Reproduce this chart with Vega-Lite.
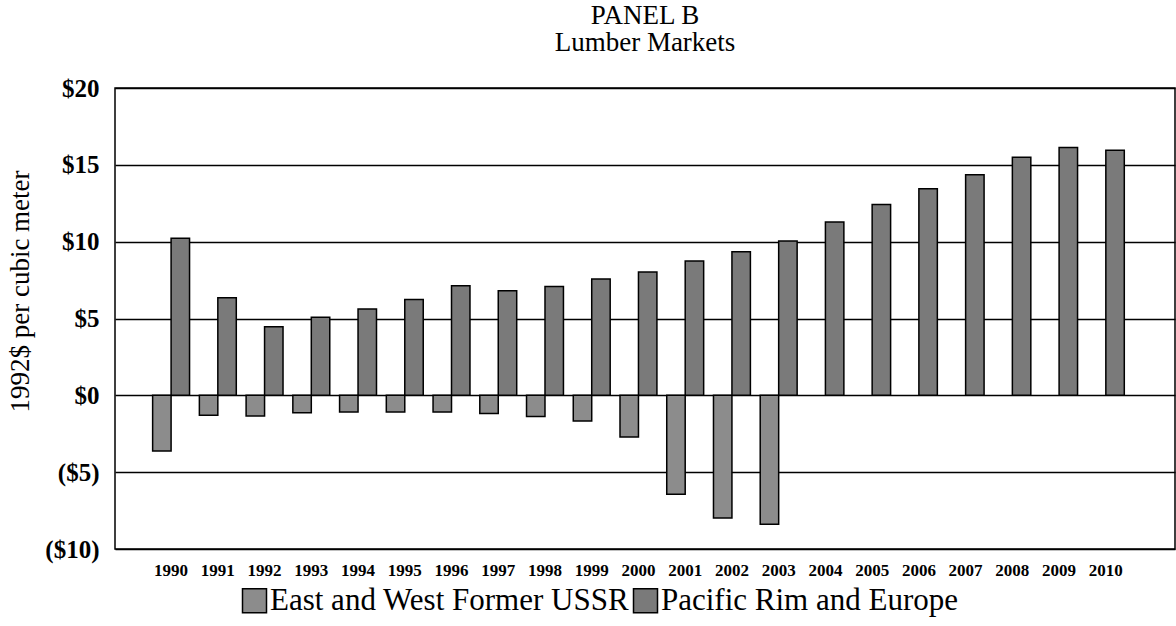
{
  "$schema": "https://vega.github.io/schema/vega-lite/v6.json",
  "width": 1060,
  "height": 461,
  "autosize": {"type": "none"},
  "padding": {"left": 115, "top": 88, "right": 1, "bottom": 77},
  "background": "white",
  "title": {
    "text": "PANEL B",
    "subtitle": "Lumber Markets",
    "font": "Liberation Serif",
    "fontSize": 27,
    "fontWeight": "normal",
    "subtitleFont": "Liberation Serif",
    "subtitleFontSize": 27,
    "subtitleFontWeight": "normal",
    "subtitleColor": "black",
    "subtitlePadding": 0,
    "anchor": "middle",
    "offset": 19,
    "color": "black"
  },
  "config": {
    "view": {"stroke": "black", "strokeWidth": 1.5},
    "font": "Liberation Serif"
  },
  "data": {
    "values": [
      {"year": "1990", "series": "East and West Former USSR", "value": -3.62},
      {"year": "1991", "series": "East and West Former USSR", "value": -1.3},
      {"year": "1992", "series": "East and West Former USSR", "value": -1.34},
      {"year": "1993", "series": "East and West Former USSR", "value": -1.13},
      {"year": "1994", "series": "East and West Former USSR", "value": -1.08},
      {"year": "1995", "series": "East and West Former USSR", "value": -1.08},
      {"year": "1996", "series": "East and West Former USSR", "value": -1.09},
      {"year": "1997", "series": "East and West Former USSR", "value": -1.18},
      {"year": "1998", "series": "East and West Former USSR", "value": -1.38},
      {"year": "1999", "series": "East and West Former USSR", "value": -1.67},
      {"year": "2000", "series": "East and West Former USSR", "value": -2.71},
      {"year": "2001", "series": "East and West Former USSR", "value": -6.44},
      {"year": "2002", "series": "East and West Former USSR", "value": -7.98},
      {"year": "2003", "series": "East and West Former USSR", "value": -8.39},
      {"year": "1990", "series": "Pacific Rim and Europe", "value": 10.22},
      {"year": "1991", "series": "Pacific Rim and Europe", "value": 6.35},
      {"year": "1992", "series": "Pacific Rim and Europe", "value": 4.46},
      {"year": "1993", "series": "Pacific Rim and Europe", "value": 5.08},
      {"year": "1994", "series": "Pacific Rim and Europe", "value": 5.62},
      {"year": "1995", "series": "Pacific Rim and Europe", "value": 6.24},
      {"year": "1996", "series": "Pacific Rim and Europe", "value": 7.13},
      {"year": "1997", "series": "Pacific Rim and Europe", "value": 6.81},
      {"year": "1998", "series": "Pacific Rim and Europe", "value": 7.09},
      {"year": "1999", "series": "Pacific Rim and Europe", "value": 7.57},
      {"year": "2000", "series": "Pacific Rim and Europe", "value": 8.02},
      {"year": "2001", "series": "Pacific Rim and Europe", "value": 8.75},
      {"year": "2002", "series": "Pacific Rim and Europe", "value": 9.34},
      {"year": "2003", "series": "Pacific Rim and Europe", "value": 10.05},
      {"year": "2004", "series": "Pacific Rim and Europe", "value": 11.28},
      {"year": "2005", "series": "Pacific Rim and Europe", "value": 12.42},
      {"year": "2006", "series": "Pacific Rim and Europe", "value": 13.45},
      {"year": "2007", "series": "Pacific Rim and Europe", "value": 14.36},
      {"year": "2008", "series": "Pacific Rim and Europe", "value": 15.5},
      {"year": "2009", "series": "Pacific Rim and Europe", "value": 16.12},
      {"year": "2010", "series": "Pacific Rim and Europe", "value": 15.95}
    ]
  },
  "mark": {"type": "bar", "stroke": "black", "strokeWidth": 1.5},
  "encoding": {
    "x": {
      "field": "year",
      "type": "ordinal",
      "scale": {"paddingInner": 0.21, "paddingOuter": 0.945, "align": 0.426},
      "axis": {
        "title": null,
        "ticks": false,
        "domain": false,
        "labelAngle": 0,
        "labelFont": "Liberation Serif",
        "labelFontSize": 17,
        "labelFontWeight": "bold",
        "labelPadding": 13,
        "labelColor": "black"
      }
    },
    "xOffset": {
      "field": "series",
      "sort": ["East and West Former USSR", "Pacific Rim and Europe"],
      "scale": {"paddingInner": 0, "paddingOuter": 0}
    },
    "y": {
      "field": "value",
      "type": "quantitative",
      "scale": {"domain": [-10, 20], "nice": false},
      "axis": {
        "values": [-10, -5, 0, 5, 10, 15, 20],
        "format": "($.0f",
        "title": "1992$ per cubic meter",
        "titleFont": "Liberation Serif",
        "titleFontSize": 27,
        "titleFontWeight": "normal",
        "titleColor": "black",
        "titleX": -81,
        "titleY": 203,
        "ticks": false,
        "domain": false,
        "grid": true,
        "gridColor": "black",
        "gridWidth": 1.5,
        "gridOpacity": 1,
        "labelFont": "Liberation Serif",
        "labelFontSize": 25,
        "labelFontWeight": "bold",
        "labelPadding": 16,
        "labelColor": "black"
      }
    },
    "fill": {
      "field": "series",
      "type": "nominal",
      "scale": {
        "domain": ["East and West Former USSR", "Pacific Rim and Europe"],
        "range": ["#8c8c8c", "#7a7a7a"]
      },
      "legend": {
        "orient": "none",
        "legendX": 124,
        "legendY": 497,
        "direction": "horizontal",
        "title": null,
        "padding": 0,
        "labelFont": "Liberation Serif",
        "labelFontSize": 31,
        "labelColor": "black",
        "labelLimit": 500,
        "labelOffset": 0,
        "columnPadding": -30,
        "symbolType": "square",
        "symbolSize": 576,
        "symbolStrokeColor": "black",
        "symbolStrokeWidth": 1.5,
        "symbolOpacity": 1
      }
    }
  }
}
